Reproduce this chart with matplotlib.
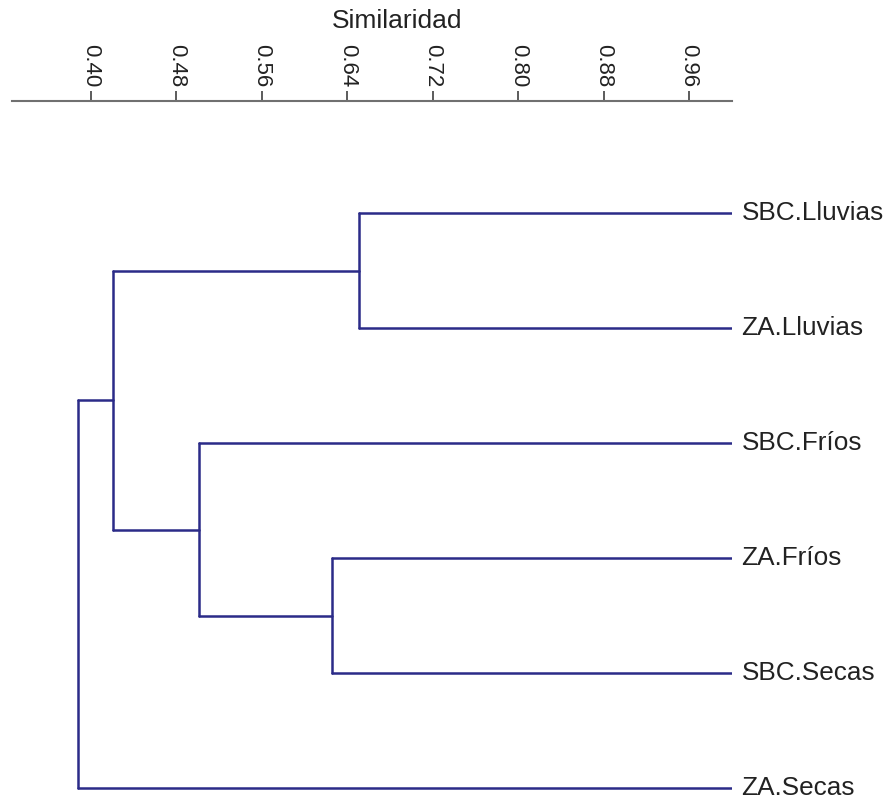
import matplotlib.pyplot as plt

plt.rcParams['font.family'] = ['Liberation Sans', 'DejaVu Sans']

# Hojas del dendrograma (de arriba a abajo)
leaves = ['SBC.Lluvias', 'ZA.Lluvias', 'SBC.Fríos', 'ZA.Fríos', 'SBC.Secas', 'ZA.Secas']

# Uniones: (hijo izquierdo, hijo derecho, similaridad); los nodos nuevos se numeran desde len(leaves)
merge_a = [0, 3, 2, 6, 9]
merge_b = [1, 4, 7, 8, 5]
merge_sim = [0.651, 0.626, 0.501, 0.421, 0.388]

ticks = [0.40, 0.48, 0.56, 0.64, 0.72, 0.80, 0.88, 0.96]

color = '#2b2b88'

fig = plt.figure(figsize=(8.88, 8.07), dpi=100)
ax = fig.add_axes([12 / 888, 1 - 800 / 807, (731.7 - 12) / 888, (800 - 101) / 807])

# posiciones de cada nodo: las hojas en similaridad 1.0
xpos = {i: 1.0 for i in range(len(leaves))}
ypos = {i: float(i) for i in range(len(leaves))}

for k, (a, b, s) in enumerate(zip(merge_a, merge_b, merge_sim)):
    node = len(leaves) + k
    ax.plot([s, s], [ypos[a], ypos[b]], color=color, lw=1.8, solid_capstyle='round')
    for c in (a, b):
        ax.plot([s, xpos[c]], [ypos[c], ypos[c]], color=color, lw=1.8, solid_capstyle='round')
    xpos[node] = s
    ypos[node] = (ypos[a] + ypos[b]) / 2

for i, name in enumerate(leaves):
    ax.annotate(name, (1.0, i), xytext=(7, 0), textcoords='offset points',
                va='center', ha='left', fontsize=18.8, color='#222222',
                annotation_clip=False)

ax.set_xlim(0.326, 1.0)
ax.set_ylim(5.10, -0.973)

for side in ['left', 'right', 'bottom']:
    ax.spines[side].set_visible(False)
ax.spines['top'].set_color('#707070')
ax.spines['top'].set_linewidth(1.5)

ax.xaxis.tick_top()
ax.set_xticks(ticks)
ax.set_xticklabels(['%.2f' % t for t in ticks], rotation=270, fontsize=16, color='#222222')
ax.tick_params(axis='x', direction='out', length=7, width=1.2, color='#404040', pad=3)
ax.set_yticks([])

fig.text(397 / 888, 1 - 21 / 807, 'Similaridad', ha='center', va='center',
         fontsize=19, color='#222222')

fig.savefig('out.png', dpi=100)
